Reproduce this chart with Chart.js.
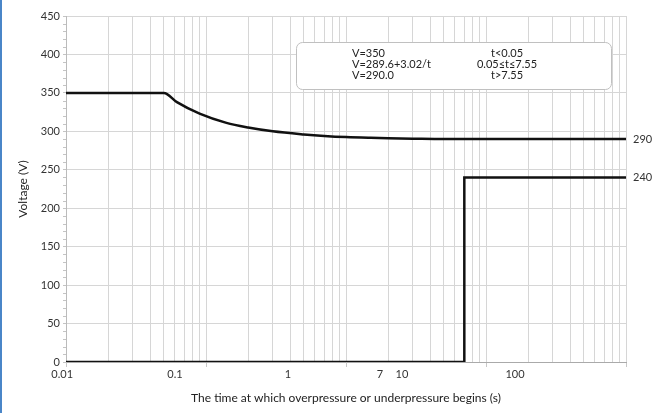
<!DOCTYPE html>
<html>
<head>
<meta charset="utf-8">
<title>Voltage vs time</title>
<script src="https://cdn.jsdelivr.net/npm/chart.js@4.4.1/dist/chart.umd.min.js"></script>
<style>
    html, body { margin: 0; padding: 0; background: #fff; }
    #wrap { position: relative; width: 662px; height: 413px; }
    #edge { position: absolute; left: 0; top: 0; width: 2px; height: 413px; background: #4a86c8; }
    canvas { position: absolute; left: 0; top: 0; }
</style>
</head>
<body>
<div id="wrap">
    <canvas id="vt-chart" width="662" height="413"></canvas>
    <div id="edge"></div>
</div>
<script>
    // Upper limit curve
    const curveTime = [0.01, 0.05, 0.062, 0.09, 0.14, 0.2, 0.3, 0.5, 0.7, 1, 1.5, 2, 3, 5, 7.55, 100];
    const curveVolt = [350, 350, 338, 323, 311, 305, 300, 296, 294, 292.5, 291.5, 291, 290.5, 290, 290, 290];

    // Lower limit step
    const stepTime = [0.01, 7, 7, 100];
    const stepVolt = [0, 0, 240, 240];

    // x tick labels and where they sit on the axis
    const tickLabels = ['0.01', '0.1', '1', '7', '10', '100'];
    const tickAt = [0.0094, 0.06, 0.385, 1.75, 2.51, 16.1];

    // formula box text
    const noteLeft = ['V=350', 'V=289.6+3.02/t', 'V=290.0'];
    const noteRight = ['t<0.05', '0.05\u2264t\u22647.55', 't>7.55'];

    const FONT = 'Lato';
    const GRID = '#d6d6d6';

    // grid lines at 1..9 x each decade
    const gridValues = [];
    for (let e = -2; e < 2; e++) {
        for (let m = 1; m < 10; m++) {
            gridValues.push(m * Math.pow(10, e));
        }
    }
    gridValues.push(100);

    function toPoints(xs, ys) {
        return xs.map(function(x, i) { return { x: x, y: ys[i] }; });
    }

    const extras = {
        id: 'extras',
        afterDatasetsDraw: function(chart) {
            const ctx = chart.ctx;
            const area = chart.chartArea;
            const y = chart.scales.y;

            // minor ticks on the y axis
            ctx.save();
            ctx.strokeStyle = '#c4c4c4';
            ctx.lineWidth = 1;
            for (let v = 10; v < 450; v += 10) {
                if (v % 50 === 0) continue;
                const py = Math.round(y.getPixelForValue(v)) + 0.5;
                ctx.beginPath();
                ctx.moveTo(area.left - 3, py);
                ctx.lineTo(area.left, py);
                ctx.stroke();
            }
            ctx.restore();

            // end labels
            ctx.save();
            ctx.fillStyle = '#333';
            ctx.font = '11px ' + FONT;
            ctx.textBaseline = 'middle';
            ctx.textAlign = 'left';
            ctx.fillText(String(curveVolt[curveVolt.length - 1]), area.right + 7, y.getPixelForValue(curveVolt[curveVolt.length - 1]));
            ctx.fillText(String(stepVolt[stepVolt.length - 1]), area.right + 7, y.getPixelForValue(stepVolt[stepVolt.length - 1]));
            ctx.restore();

            // formula box
            const bx = area.left + 230, by = 42, bw = 315, bh = 47;
            ctx.save();
            ctx.beginPath();
            ctx.roundRect(bx + 0.5, by + 0.5, bw, bh, 6);
            ctx.fillStyle = '#fff';
            ctx.fill();
            ctx.strokeStyle = '#c0c0c0';
            ctx.lineWidth = 1;
            ctx.stroke();
            ctx.fillStyle = '#222';
            ctx.font = '11px ' + FONT;
            ctx.textBaseline = 'middle';
            noteLeft.forEach(function(t, i) {
                ctx.textAlign = 'left';
                ctx.fillText(t, bx + 56, by + 11 + i * 11);
            });
            noteRight.forEach(function(t, i) {
                ctx.textAlign = 'center';
                ctx.fillText(t, bx + 211, by + 11 + i * 11);
            });
            ctx.restore();
        }
    };

    const lineStyle = {
        borderColor: '#111',
        borderWidth: 2.5,
        pointRadius: 0,
        fill: false
    };

    new Chart(document.getElementById('vt-chart'), {
        type: 'line',
        data: {
            datasets: [
                Object.assign({
                    label: 'upper',
                    data: toPoints(curveTime, curveVolt),
                    cubicInterpolationMode: 'monotone'
                }, lineStyle),
                Object.assign({
                    label: 'lower',
                    data: toPoints(stepTime, stepVolt)
                }, lineStyle)
            ]
        },
        options: {
            responsive: false,
            animation: false,
            devicePixelRatio: 1,
            layout: { padding: { top: 16, right: 36, left: 0, bottom: 0 } },
            plugins: {
                legend: { display: false },
                tooltip: { enabled: false }
            },
            scales: {
                x: {
                    type: 'logarithmic',
                    position: 'bottom',
                    min: 0.01,
                    max: 100,
                    afterBuildTicks: function(scale) {
                        scale.ticks = gridValues.map(function(v) { return { value: v }; });
                    },
                    afterFit: function(scale) { scale.height = 5; },
                    ticks: { display: false },
                    grid: {
                        color: GRID,
                        tickLength: 5,
                        tickColor: function(c) {
                            const v = c.tick ? c.tick.value : 0;
                            const e = Math.log10(v);
                            return Math.abs(e - Math.round(e)) < 1e-6 ? '#c8c8c8' : 'rgba(0,0,0,0)';
                        }
                    },
                    border: { color: '#aaa' }
                },
                xLabels: {
                    type: 'logarithmic',
                    position: 'bottom',
                    min: 0.01,
                    max: 100,
                    afterBuildTicks: function(scale) {
                        scale.ticks = tickAt.map(function(v) { return { value: v }; });
                    },
                    afterFit: function(scale) { scale.height = 46; },
                    grid: { display: false, drawTicks: false },
                    border: { display: false },
                    ticks: {
                        autoSkip: false,
                        maxRotation: 0,
                        padding: 1,
                        color: '#333',
                        font: { family: FONT, size: 11 },
                        callback: function(value, index) { return tickLabels[index]; }
                    },
                    title: {
                        display: true,
                        text: 'The time at which overpressure or underpressure begins (s)',
                        color: '#222',
                        font: { family: FONT, size: 12 },
                        padding: { top: 0, bottom: 8 }
                    }
                },
                y: {
                    min: 0,
                    max: 450,
                    afterFit: function(scale) { scale.width = 66; },
                    ticks: {
                        stepSize: 50,
                        padding: 3,
                        color: '#333',
                        font: { family: FONT, size: 11 }
                    },
                    grid: { color: GRID, tickLength: 3, tickColor: '#c4c4c4' },
                    border: { color: '#bbb' },
                    title: {
                        display: true,
                        text: 'Voltage (V)',
                        color: '#222',
                        font: { family: FONT, size: 12 },
                        padding: { top: 16, bottom: 0 }
                    }
                }
            }
        },
        plugins: [extras]
    });
</script>
</body>
</html>
